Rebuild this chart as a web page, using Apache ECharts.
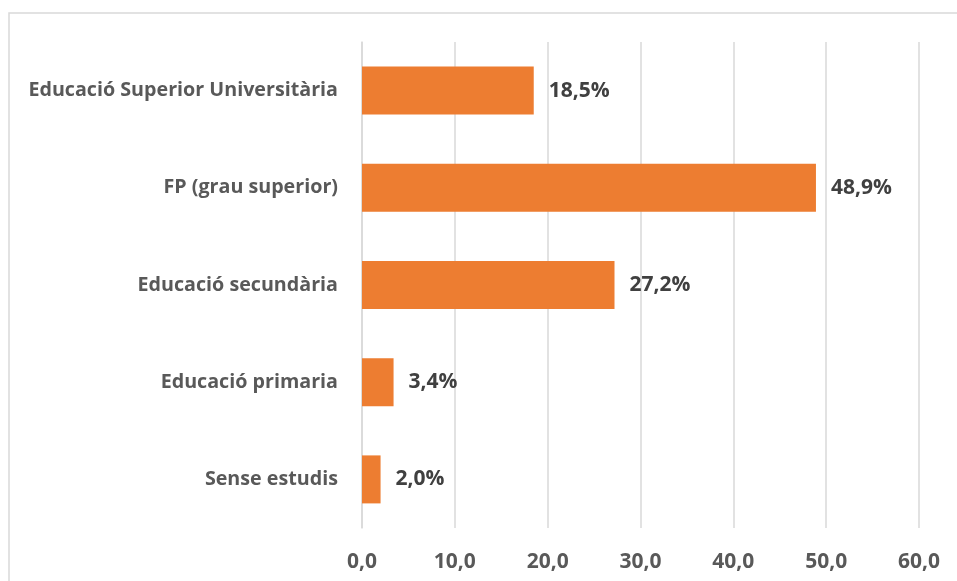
<!DOCTYPE html>
<html><head><meta charset="utf-8">
<script src="https://cdn.jsdelivr.net/npm/echarts@6/dist/echarts.min.js"></script>
<style>html,body{margin:0;padding:0;background:#fff}#c{width:957px;height:581px}</style>
</head><body><div id="c"></div>
<script>
const categories = ["Sense estudis","Educació primaria","Educació secundària","FP (grau superior)","Educació Superior Universitària"];
const values = [2.0, 3.4, 27.2, 48.9, 18.5];
const xTicks = {min:0, max:60, interval:10};
const fmt = v => v.toFixed(1).replace('.', ',');
const chart = echarts.init(document.getElementById('c'), null, {renderer:'canvas'});
const FONT = '"Open Sans", sans-serif';
chart.setOption({
  animation:false,
  graphic:[{type:'rect', shape:{x:9, y:13, width:1000, height:700}, style:{fill:'none', stroke:'#d9d9d9', lineWidth:1.5}, silent:true}],
  grid:{left:362, right:38, top:42, bottom:53, containLabel:false},
  xAxis:{type:'value', min:xTicks.min, max:xTicks.max, interval:xTicks.interval,
    axisLine:{show:false}, axisTick:{show:false},
    splitLine:{lineStyle:{color:'#d9d9d9', width:1.5}},
    axisLabel:{formatter:v=>fmt(v), color:'#595959', fontSize:21, fontWeight:'bold', fontFamily:FONT, margin:24}},
  yAxis:{type:'category', data:categories,
    axisLine:{show:true, lineStyle:{color:'#d9d9d9', width:1.5}}, axisTick:{show:false},
    axisLabel:{color:'#595959', fontSize:19.7, fontWeight:'bold', fontFamily:FONT, margin:24}},
  series:[{type:'bar', data:values, barWidth:48, itemStyle:{color:'#ED7D31'},
    label:{show:true, position:'right', distance:15, formatter:p=>fmt(p.value)+'%', color:'#404040', fontSize:21, fontWeight:'bold', fontFamily:FONT}}]
});
</script></body></html>
